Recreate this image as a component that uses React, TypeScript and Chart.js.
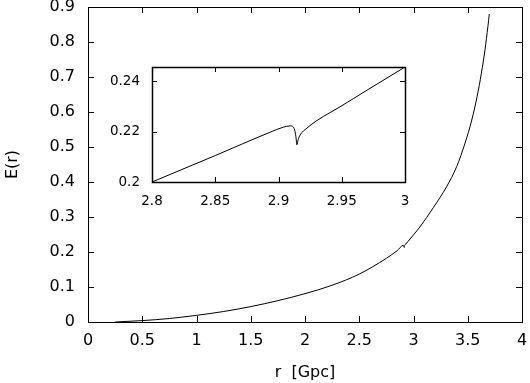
import React, { useEffect, useRef } from "react";
import { Chart, registerables } from "chart.js";

Chart.register(...registerables);

// Main curve E(r)
const mainR = [0.25, 0.5, 0.75, 1.0, 1.25, 1.5, 1.75, 2.0, 2.25, 2.5, 2.75, 2.85, 2.906, 2.9145, 2.918, 2.925, 2.95, 3.0, 3.06, 3.183, 3.306, 3.398, 3.475, 3.537, 3.586, 3.626, 3.659, 3.686, 3.699];
const mainE = [0, 0.004, 0.01, 0.019, 0.03, 0.044, 0.061, 0.081, 0.105, 0.137, 0.182, 0.204, 0.219, 0.213, 0.2185, 0.2215, 0.2305, 0.249, 0.272, 0.327, 0.387, 0.444, 0.511, 0.577, 0.644, 0.711, 0.778, 0.845, 0.88];

// Inset zoom around r = 2.9
const insetR = [2.8, 2.85, 2.8934, 2.9039, 2.9092, 2.9118, 2.9131, 2.9139, 2.9145, 2.9155, 2.9171, 2.9224, 2.9303, 2.9408, 2.9487, 2.97, 3.0];
const insetE = [0.2, 0.2105, 0.2198, 0.2218, 0.2223, 0.2218, 0.22, 0.2174, 0.2148, 0.2168, 0.2187, 0.2214, 0.2244, 0.2276, 0.2299, 0.2365, 0.2457];

const mainXTicks = [0, 0.5, 1, 1.5, 2, 2.5, 3, 3.5, 4];
const mainYTicks = [0, 0.1, 0.2, 0.3, 0.4, 0.5, 0.6, 0.7, 0.8, 0.9];
const insetXTicks = [2.8, 2.85, 2.9, 2.95, 3];
const insetYTicks = [0.2, 0.22, 0.24];

const FONT = "'DejaVu Sans', 'Liberation Sans', Arial, sans-serif";

const frameTicks = {
  id: "frameTicks",
  afterDraw(chart: any, _args: any, opts: any) {
    const { ctx, chartArea: a, scales } = chart;
    const len = opts.len ?? 5;
    ctx.save();
    ctx.strokeStyle = "#000";
    ctx.lineWidth = 1;
    ctx.beginPath();
    for (const t of scales.x.ticks) {
      const px = Math.round(scales.x.getPixelForValue(t.value)) + 0.5;
      ctx.moveTo(px, a.bottom);
      ctx.lineTo(px, a.bottom - len);
      ctx.moveTo(px, a.top);
      ctx.lineTo(px, a.top + len);
    }
    for (const t of scales.y.ticks) {
      const py = Math.round(scales.y.getPixelForValue(t.value)) + 0.5;
      ctx.moveTo(a.left, py);
      ctx.lineTo(a.left + len, py);
      ctx.moveTo(a.right, py);
      ctx.lineTo(a.right - len, py);
    }
    ctx.stroke();
    ctx.lineWidth = opts.lw ?? 1;
    ctx.strokeRect(a.left + 0.5, a.top + 0.5, a.right - a.left, a.bottom - a.top);
    ctx.restore();
  },
};

function fmt(v: number) {
  return String(Math.round(v * 1000) / 1000);
}

function makeConfig(
  xs: number[], ys: number[], xTicks: number[], yTicks: number[],
  xr: [number, number], yr: [number, number],
  area: { left: number; top: number; right: number; bottom: number },
  fontSize: number, yPad: number, xPad: number, titles: boolean, tickLen: number, lw: number
): any {
  const W = 530, H = 383;
  const padLeft = titles ? 0 : area.left - 60;
  const yWidth = area.left - padLeft;
  const xHeight = titles ? H - area.bottom : 28;
  const padBottom = H - area.bottom - xHeight;
  return {
    type: "line",
    data: {
      datasets: [{
        data: xs.map((x, i) => ({ x, y: ys[i] })),
        borderColor: "#000",
        borderWidth: 1,
        pointRadius: 0,
        fill: false,
        cubicInterpolationMode: "monotone",
      }],
    },
    plugins: [frameTicks],
    options: {
      animation: false,
      responsive: false,
      events: [],
      layout: { padding: { left: padLeft, top: area.top, right: W - area.right, bottom: padBottom } },
      plugins: { legend: { display: false }, tooltip: { enabled: false }, frameTicks: { len: tickLen, lw } },
      scales: {
        x: {
          type: "linear", min: xr[0], max: xr[1],
          afterBuildTicks: (s: any) => { s.ticks = xTicks.map((v) => ({ value: v })); },
          afterFit: (s: any) => { s.height = xHeight; s.paddingLeft = 0; s.paddingRight = 0; },
          grid: { display: false, drawTicks: false },
          border: { display: false },
          ticks: { color: "#000", padding: xPad, maxRotation: 0, autoSkip: false, font: { family: FONT, size: fontSize }, callback: (v: any) => fmt(v) },
          title: { display: titles, text: "r  [Gpc]", color: "#000", padding: { top: 0, bottom: 1 }, font: { family: FONT, size: fontSize } },
        },
        y: {
          type: "linear", min: yr[0], max: yr[1],
          afterBuildTicks: (s: any) => { s.ticks = yTicks.map((v) => ({ value: v })); },
          afterFit: (s: any) => { s.width = yWidth; s.paddingTop = 0; s.paddingBottom = 0; },
          grid: { display: false, drawTicks: false },
          border: { display: false },
          ticks: { color: "#000", padding: yPad, autoSkip: false, font: { family: FONT, size: fontSize }, callback: (v: any) => fmt(v) },
          title: { display: titles, text: "E(r)", color: "#000", padding: { top: 3, bottom: 0 }, font: { family: FONT, size: fontSize } },
        },
      },
    },
  };
}

export default function App() {
  const mainRef = useRef<HTMLCanvasElement>(null);
  const insetRef = useRef<HTMLCanvasElement>(null);

  useEffect(() => {
    const c1 = new Chart(mainRef.current!, makeConfig(
      mainR, mainE, mainXTicks, mainYTicks, [0, 4], [0, 0.9],
      { left: 88, top: 7, right: 522, bottom: 322 }, 16, 13, 9, true, 6, 1));
    const c2 = new Chart(insetRef.current!, makeConfig(
      insetR, insetE, insetXTicks, insetYTicks, [2.8, 3], [0.2, 0.2457],
      { left: 152, top: 67, right: 405, bottom: 182 }, 13.5, 12, 11, false, 5, 1.5));
    return () => { c1.destroy(); c2.destroy(); };
  }, []);

  return (
    <div style={{ position: "fixed", left: 0, top: 0, width: 530, height: 383, background: "#fff" }}>
      <canvas ref={mainRef} width={530} height={383} style={{ position: "absolute", left: 0, top: 0 }} />
      <canvas ref={insetRef} width={530} height={383} style={{ position: "absolute", left: 0, top: 0 }} />
    </div>
  );
}
